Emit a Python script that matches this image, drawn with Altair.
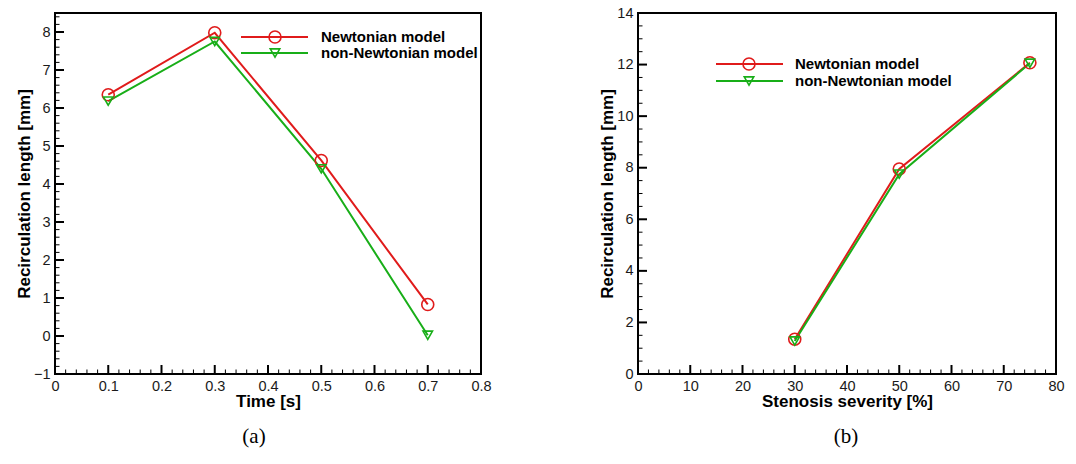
import altair as alt
import pandas as pd

NEWT = "Newtonian model"
NONNEWT = "non-Newtonian model"

# Panel (a): recirculation length vs time
time_s = [0.1, 0.3, 0.5, 0.7]
newt_a = [6.35, 7.98, 4.62, 0.83]
nonnewt_a = [6.18, 7.75, 4.40, 0.02]

# Panel (b): recirculation length vs stenosis severity
severity = [30, 50, 75]
newt_b = [1.35, 7.95, 12.07]
nonnewt_b = [1.28, 7.75, 12.05]

# Tick values
xticks_a = [0, 0.1, 0.2, 0.3, 0.4, 0.5, 0.6, 0.7, 0.8]
yticks_a = [-1, 0, 1, 2, 3, 4, 5, 6, 7, 8]
xticks_b = [0, 10, 20, 30, 40, 50, 60, 70, 80]
yticks_b = [0, 2, 4, 6, 8, 10, 12, 14]
xminor_a = [round(i * 0.02, 2) for i in range(41) if i % 5]
yminor_a = [round(-1 + i * 0.2, 1) for i in range(48) if i % 5]
xminor_b = [i * 2 for i in range(41) if i % 5]
yminor_b = [i * 0.5 for i in range(29) if i % 4]

RED = "#e01b1b"
GREEN = "#18ae18"
FONT = "Liberation Sans"
YTITLE = "Recirculation length [mm]"


def panel(xv, n, nn, xdom, ydom, xt, yt, xm, ym, xfmt, yfmt, xtitle, W, H,
          leg, label, label_x):
    xs = alt.Scale(domain=xdom, nice=False, zero=False)
    ys = alt.Scale(domain=ydom, nice=False, zero=False)
    df = pd.DataFrame({
        "x": list(xv) * 2,
        "y": list(n) + list(nn),
        "model": [NEWT] * len(xv) + [NONNEWT] * len(xv),
    })
    common = dict(grid=False, ticks=False, tickSize=0, domain=False,
                  labelFont=FONT, labelFontSize=14.5, labelColor="#1a1a1a",
                  titleFont=FONT, titleFontSize=17, titleFontWeight="bold",
                  titleColor="black", labelOverlap=False, labelFlush=False)
    xaxis = alt.Axis(values=xt, format=xfmt, title=xtitle, labelPadding=5,
                     titleY=27, titleBaseline="middle", **common)
    yaxis = alt.Axis(values=yt, format=yfmt, title=YTITLE, labelPadding=5,
                     titleX=-31, titleY=H / 2, titleAngle=-90,
                     titleBaseline="middle", **common)
    cscale = alt.Scale(domain=[NEWT, NONNEWT], range=[RED, GREEN])
    base = alt.Chart(df)
    lines = base.mark_line(strokeWidth=2).encode(
        x=alt.X("x:Q", scale=xs, axis=xaxis),
        y=alt.Y("y:Q", scale=ys, axis=yaxis),
        color=alt.Color("model:N", scale=cscale, legend=None),
        detail="model:N",
    )
    pts = base.mark_point(filled=False, strokeWidth=1.6, opacity=1).encode(
        x=alt.X("x:Q", scale=xs, axis=xaxis),
        y=alt.Y("y:Q", scale=ys, axis=yaxis),
        color=alt.Color("model:N", scale=cscale, legend=None),
        shape=alt.Shape("model:N", scale=alt.Scale(domain=[NEWT, NONNEWT],
                        range=["circle", "triangle-down"]), legend=None),
        size=alt.Size("model:N", scale=alt.Scale(domain=[NEWT, NONNEWT],
                      range=[144, 90]), legend=None),
    )
    layers = [lines, pts]
    # inward ticks
    for vals, ln, sw in [(xt, 9, 2), (xm, 4.5, 1)]:
        layers.append(alt.Chart(pd.DataFrame({"v": vals})).mark_rule(
            color="black", strokeWidth=sw).encode(
            x=alt.X("v:Q", scale=xs, axis=xaxis),
            y=alt.value(H), y2=alt.value(H - ln)))
    for vals, ln, sw in [(yt, 9, 2), (ym, 4.5, 1)]:
        layers.append(alt.Chart(pd.DataFrame({"v": vals})).mark_rule(
            color="black", strokeWidth=sw).encode(
            y=alt.Y("v:Q", scale=ys, axis=yaxis),
            x=alt.value(0), x2=alt.value(ln)))
    # legend
    lx0, lx1, mx, tx, ly = leg
    for i, (name, col, shp, sz) in enumerate(
            [(NEWT, RED, "circle", 144), (NONNEWT, GREEN, "triangle-down", 90)]):
        d = pd.DataFrame({"label": [name]})
        layers.append(alt.Chart(d).mark_rule(color=col, strokeWidth=2).encode(
            x=alt.value(lx0), x2=alt.value(lx1), y=alt.value(ly[i])))
        layers.append(alt.Chart(d).mark_point(
            shape=shp, size=sz, color=col, filled=False, strokeWidth=1.6,
            opacity=1).encode(x=alt.value(mx), y=alt.value(ly[i])))
        layers.append(alt.Chart(d).mark_text(
            align="left", baseline="middle", font=FONT, fontSize=15,
            fontWeight="bold", color="black").encode(
            x=alt.value(tx), y=alt.value(ly[i]), text="label:N"))
    # panel label
    layers.append(alt.Chart(pd.DataFrame({"label": [label]})).mark_text(
        font="Liberation Serif", fontSize=21, color="black",
        baseline="middle").encode(
        x=alt.value(label_x), y=alt.value(H + 63), text="label:N"))
    return alt.layer(*layers).properties(width=W, height=H)


left = panel(time_s, newt_a, nonnewt_a, [0, 0.8], [-1, 8.5],
             xticks_a, yticks_a, xminor_a, yminor_a, ".1~f", "d",
             "Time [s]", 426, 361,
             (186, 253, 220, 266, (24, 40)), "(a)", 199)
right = panel(severity, newt_b, nonnewt_b, [0, 80], [0, 14],
              xticks_b, yticks_b, xminor_b, yminor_b, "d", "d",
              "Stenosis severity [%]", 418, 361,
              (78, 145, 111, 157, (51, 68)), "(b)", 208)

chart = alt.hconcat(left, right, spacing=157, bounds="flush").properties(
    padding={"left": 14, "top": 4, "right": 5, "bottom": 5},
    background="white",
).configure_view(stroke="black", strokeWidth=2)

chart.save("out.html", embed_options={"renderer": "svg", "actions": False})
